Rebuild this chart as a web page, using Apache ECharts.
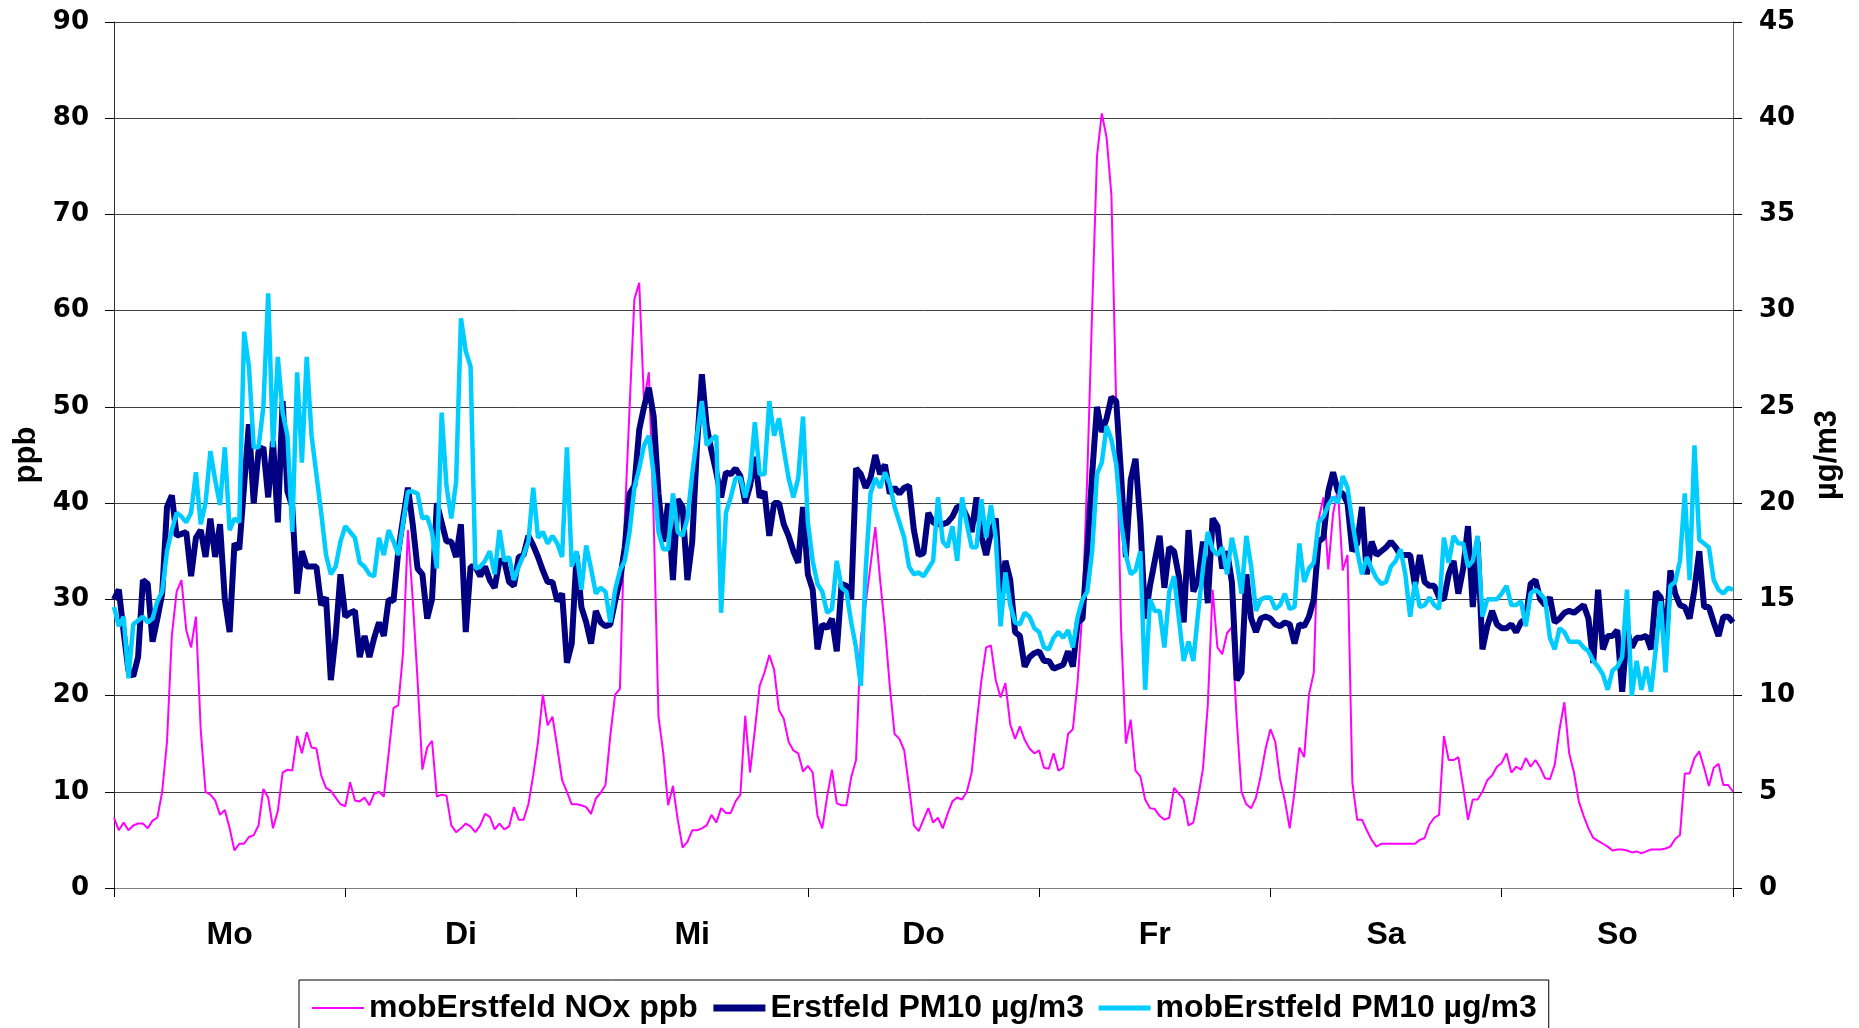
<!DOCTYPE html>
<html>
<head>
<meta charset="utf-8">
<script src="https://cdn.jsdelivr.net/npm/echarts@6/dist/echarts.min.js"></script>
<style>
html,body{margin:0;padding:0;background:#fff;}
#chart{width:1859px;height:1028px;}
</style>
</head>
<body>
<div id="chart"></div>
<script>
// Day labels (one tick interval = one day of half-hourly values)
const dayLabels = ['Mo', 'Di', 'Mi', 'Do', 'Fr', 'Sa', 'So'];
const seriesNames = ['mobErstfeld NOx ppb', 'Erstfeld PM10 µg/m3', 'mobErstfeld PM10 µg/m3'];

// mobErstfeld NOx (ppb), half-hourly
const noxPpb = [
  // Mo
  7.3, 6.0, 6.8, 6.0, 6.5, 6.7, 6.7, 6.2, 7.0, 7.3, 10, 15.2, 26.2, 30.8, 32, 26.8, 25, 28.2, 16.4, 10,
  9.7, 9.1, 7.6, 8.1, 6.2, 3.9, 4.6, 4.6, 5.3, 5.5, 6.5, 10.3, 9.4, 6.2, 8, 12, 12.3, 12.2, 15.8, 14,
  16.2, 14.6, 14.5, 11.7, 10.4, 10.1, 9.4, 8.7,
  // Di
  8.5, 11, 9.1, 9, 9.4, 8.6, 9.8, 10, 9.5, 14, 18.7, 19, 24.5, 37.2, 30, 21.6, 12.3, 14.6, 15.3, 9.5,
  9.7, 9.6, 6.5, 5.8, 6.2, 6.7, 6.4, 5.8, 6.5, 7.7, 7.4, 6.1, 6.7, 6.1, 6.4, 8.4, 7.1, 7.1, 8.7, 11.7,
  15.2, 20.1, 16.9, 17.8, 14.6, 11.2, 10, 8.7,
  // Mi
  8.7, 8.6, 8.4, 7.7, 9.3, 9.9, 10.7, 15.8, 20.1, 20.7, 38.3, 49.9, 61.2, 62.9, 50.5, 53.6, 38.3, 17.8, 14, 8.6,
  10.6, 7.1, 4.2, 4.8, 6, 6, 6.2, 6.5, 7.6, 6.8, 8.3, 7.8, 7.8, 9, 9.7, 17.9, 12, 16.4, 21, 22.4,
  24.2, 22.7, 18.5, 17.6, 15.2, 14.3, 14, 12.1,
  // Do
  12.7, 12, 7.5, 6.2, 9.5, 12.3, 8.8, 8.6, 8.6, 11.5, 13.3, 26, 29.5, 33.5, 37.5, 32, 27, 21, 16, 15.5,
  14.3, 10.5, 6.5, 5.9, 7.1, 8.3, 6.8, 7.3, 6.2, 7.7, 9, 9.4, 9.2, 10, 12, 17, 21.5, 25, 25.2, 21.6,
  19.8, 21.3, 17, 15.5, 16.8, 15.4, 14.5, 14,
  // Fr
  14.3, 12.5, 12.4, 14, 12.2, 12.5, 16, 16.5, 21.5, 29, 43, 60, 76, 80.5, 78, 72, 50, 27, 15, 17.5,
  12.2, 11.6, 9.2, 8.3, 8.2, 7.5, 7.1, 7.3, 10.4, 9.8, 9.2, 6.5, 6.8, 9.4, 12.4, 19, 31, 25, 24.3, 26.5,
  27.1, 17.5, 10, 8.7, 8.3, 9.4, 11.7, 14.5,
  // Sa
  16.5, 15.2, 11.3, 9.1, 6.2, 10, 14.6, 13.6, 20.1, 22.4, 38.3, 40.6, 33.1, 38.9, 41.5, 33, 34.6, 11, 7.1, 7.1,
  6, 5, 4.3, 4.6, 4.6, 4.6, 4.6, 4.6, 4.6, 4.6, 4.6, 5, 5.2, 6.6, 7.3, 7.6, 15.8, 13.3, 13.3, 13.6,
  10.5, 7.1, 9.2, 9.2, 10, 11.2, 11.7, 12.6,
  // So
  13, 14, 12, 12.6, 12.3, 13.5, 12.6, 13.3, 12.5, 11.4, 11.3, 12.8, 16.5, 19.3, 14, 12, 9, 7.5, 6.2, 5.2,
  4.9, 4.6, 4.3, 3.9, 4, 4, 3.9, 3.7, 3.8, 3.6, 3.8, 4, 4, 4, 4.1, 4.3, 5.1, 5.5, 11.9, 11.9,
  13.5, 14.2, 12.5, 10.6, 12.5, 12.9, 10.7, 10.7, 10
];

// Erstfeld PM10 (µg/m3), half-hourly
const pm10Erstfeld = [
  // Mo
  15, 15.5, 13.3, 11.3, 11, 12, 16, 15.8, 12.8, 14, 15.3, 19.8, 20.4, 18.3, 18.4, 18.5, 16.2, 18.2, 18.6, 17.2,
  19.2, 17.2, 18.9, 15, 13.3, 17.9, 17.6, 20.9, 24.1, 20, 22.7, 22.9, 20.3, 23.2, 19, 25.3, 20.6, 19.8, 15.3, 17.5,
  16.7, 16.7, 16.7, 14.7, 15.1, 10.8, 13.1, 16.3,
  // Di
  14.1, 14.3, 14.4, 12, 13.1, 12, 13, 13.8, 13.1, 15, 14.9, 17.5, 19.2, 20.8, 18.9, 16.6, 16.3, 14, 15, 20,
  19, 18, 18, 17.2, 18.9, 13.3, 16.7, 16.7, 16.2, 16.7, 16, 15.6, 17, 17, 15.9, 15.7, 17.2, 17.3, 18.3, 17.8,
  17.2, 16.5, 15.9, 15.9, 14.9, 15.3, 11.7, 12.7,
  // Mi
  17.3, 14.6, 13.8, 12.7, 14.4, 13.8, 13.6, 13.7, 14.9, 16, 17.7, 20.5, 20.9, 23.8, 25, 26, 24.5, 20.5, 18, 20,
  16, 20.2, 19.8, 16, 18, 23, 26.7, 24, 22.7, 21.6, 20.3, 21.6, 21.5, 21.8, 21.4, 20, 20.9, 22.4, 20.3, 20.6,
  18.3, 20, 20, 18.9, 18.3, 17.5, 16.9, 19.8,
  // Do
  16.3, 15.5, 12.4, 13.7, 13.5, 14, 12.3, 15.8, 15.7, 15, 21.8, 21.5, 20.8, 21.3, 22.5, 21.5, 22, 20.5, 20.8, 20.5,
  20.8, 20.9, 18.6, 17.3, 17.4, 19.5, 19, 18.9, 18.9, 19, 19.3, 19.8, 19.8, 19.3, 18.5, 20.3, 18.3, 17.3, 18.5, 19.2,
  15.3, 17, 16, 13.3, 13.1, 11.5, 12, 12.2,
  // Fr
  12.3, 11.8, 11.8, 11.4, 11.5, 11.6, 12.3, 11.5, 13.8, 14, 17.5, 21.5, 25, 23.7, 24.4, 25.5, 25.3, 21.5, 17.2, 21.2,
  22.3, 19, 14, 15.7, 17, 18.3, 15.6, 17.7, 17.5, 16.2, 13.8, 18.6, 15.4, 16, 18, 14.8, 19.2, 18.8, 16.6, 17.5,
  15.9, 10.8, 11.2, 16.3, 14, 13.3, 14, 14.1,
  // Sa
  14, 13.7, 13.6, 13.8, 13.7, 12.7, 13.7, 13.6, 14.1, 15, 18, 18.2, 20.6, 21.6, 20.6, 20.5, 20, 17.5, 17.9, 19.8,
  16.3, 18, 17.3, 17.5, 17.7, 18, 17.7, 17.3, 17.3, 17.3, 15.7, 17.3, 15.9, 15.7, 15.7, 15.1, 15, 16.3, 17, 15.3,
  16.6, 18.8, 14.6, 18, 12.4, 13.6, 14.4, 13.7,
  // So
  13.5, 13.5, 13.7, 13.3, 13.8, 14, 15.8, 16, 15, 14.7, 15.1, 13.8, 14, 14.3, 14.4, 14.3, 14.5, 14.7, 14, 11.7,
  15.5, 12.4, 13.1, 13.1, 13.4, 10.2, 13.4, 12.5, 13, 13, 13.1, 12.4, 15.4, 15.1, 12.5, 16.5, 15.3, 14.7, 14.6, 14,
  15.5, 17.5, 14.6, 14.6, 13.8, 13.1, 14.1, 14.1, 13.8
];

// mobErstfeld PM10 (µg/m3), half-hourly
const pm10MobErstfeld = [
  // Mo
  14.6, 13.6, 14.1, 10.9, 13.7, 13.9, 14.1, 13.8, 14, 14.9, 15.4, 17.5, 18.6, 19.5, 19.3, 19, 19.5, 21.6, 18.9, 20,
  22.7, 21.2, 19.9, 22.9, 18.6, 19.2, 19, 28.9, 27.1, 22.9, 22.9, 25, 30.9, 22.9, 27.6, 24.7, 23.5, 18.5, 26.8, 22.1,
  27.6, 23.5, 21.5, 19.5, 17.3, 16.3, 16.7, 18,
  // Di
  18.8, 18.5, 18.2, 16.9, 16.7, 16.3, 16.2, 18.2, 17.3, 18.6, 18, 17.3, 19, 20.6, 20.6, 20.5, 19.2, 19.3, 18.5, 16.6,
  24.7, 20.9, 19.2, 21.1, 29.6, 27.9, 27.1, 16.6, 16.7, 17, 17.5, 16.3, 18.6, 17, 17.2, 16, 16.7, 17.3, 18, 20.8,
  18.2, 18.5, 17.9, 18.3, 17.9, 17.2, 22.9, 16.7,
  // Mi
  17.5, 15.5, 17.8, 16.6, 15.3, 15.6, 15.4, 13.8, 15.5, 16.5, 17, 18.5, 20.8, 21.8, 23, 23.5, 21.5, 18.5, 17.6, 17.6,
  20.5, 18.5, 18.3, 19.2, 21.5, 23.5, 25.3, 23, 23.3, 23.5, 14.3, 19.5, 20.3, 21.3, 21.3, 20.3, 21.3, 24.2, 21.5, 21.5,
  25.3, 23.5, 24.4, 22.8, 21.3, 20.3, 21.3, 24.5,
  // Do
  19, 17, 15.8, 15.4, 14.3, 14.5, 17, 15.6, 15.4, 13.8, 12.5, 10.5, 16.5, 20.5, 21.3, 20.8, 21.6, 21, 19.8, 19,
  18.2, 16.7, 16.3, 16.4, 16.2, 16.6, 17, 20.3, 18, 17.7, 18.8, 17, 20.3, 18.9, 17.7, 17.7, 20.2, 18.2, 19.9, 18.2,
  13.6, 16.4, 14.7, 13.8, 13.7, 14.3, 14.1, 13.5,
  // Fr
  13.3, 12.5, 12.4, 13, 13.3, 13, 13.4, 12.5, 14.1, 15, 15.4, 17.5, 21.5, 22.1, 24, 23.3, 22, 19, 17.3, 16.3,
  16.5, 17.5, 10.3, 15, 14.4, 14.4, 12.5, 15.4, 16.2, 14, 11.8, 12.8, 11.8, 14.3, 16.6, 18.5, 17.6, 17.3, 17.7, 16.3,
  18.2, 17, 15.3, 18.3, 16.7, 14.4, 15, 15.1,
  // Sa
  15.1, 14.5, 14.7, 15.3, 14.5, 14.6, 17.9, 15.9, 16.6, 16.9, 19, 19.3, 19.9, 20.3, 20, 21.4, 20.8, 19, 17.5, 16.3,
  17.2, 16.6, 16.1, 15.8, 15.9, 16.7, 17, 17.6, 16.3, 14.1, 15.9, 14.6, 14.7, 15.1, 14.7, 14.5, 18.2, 16.9, 18.3, 17.9,
  17.9, 16.7, 17, 18.3, 14.1, 15, 15, 15,
  // So
  15.3, 15.7, 14.7, 14.7, 14.9, 13.6, 15.3, 15.5, 15.3, 15, 13, 12.4, 13.5, 13.3, 12.8, 12.8, 12.8, 12.5, 12.3, 11.8,
  11.5, 11.1, 10.3, 11.3, 11.5, 12, 15.5, 10, 11.8, 10.3, 11.5, 10.2, 12.5, 14.9, 11.2, 15.7, 15.9, 17, 20.5, 16,
  23, 18.1, 17.9, 17.7, 16, 15.5, 15.3, 15.6, 15.5
];

const seriesColors = ['#FF00FF', '#000080', '#00CCFF'];
const seriesWidths = [2, 6, 4.5];
const legendWidths = [2, 7, 5];

const stepsPerDay = 48;
const lastStep = stepsPerDay * dayLabels.length;
const toPairs = arr => arr.map((v, i) => [i, v]);

const numFont = {fontFamily: 'DejaVu Sans', fontWeight: 'bold', fontSize: 26, color: '#000'};
const txtFont = {fontFamily: 'Liberation Sans', fontWeight: 'bold', color: '#000'};

const chart = echarts.init(document.getElementById('chart'), null, {renderer: 'canvas'});
chart.setOption({
  animation: false,
  backgroundColor: '#ffffff',
  grid: {left: 114, right: 126, top: 22, bottom: 140, containLabel: false},
  legend: {
    data: seriesNames.map((n, i) => ({
      name: n,
      itemStyle: {opacity: 0, borderWidth: 0},
      lineStyle: {color: seriesColors[i], width: legendWidths[i], opacity: 1}
    })),
    left: 299, top: 980,
    itemWidth: 52, itemHeight: 14, itemGap: 12,
    padding: [12, 12, 40, 12],
    borderColor: '#000', borderWidth: 1,
    textStyle: Object.assign({fontSize: 32}, txtFont)
  },
  xAxis: [
    {
      type: 'value', min: 0, max: lastStep, interval: stepsPerDay, position: 'bottom',
      axisLine: {show: true, lineStyle: {color: '#808080', width: 1}},
      axisTick: {show: true, length: 9, lineStyle: {color: '#000', width: 1}},
      axisLabel: {show: false},
      splitLine: {show: false}
    },
    {
      type: 'category', data: dayLabels, boundaryGap: true, position: 'bottom',
      axisLine: {show: false}, axisTick: {show: false}, splitLine: {show: false},
      axisLabel: Object.assign({margin: 31, fontSize: 32}, txtFont)
    }
  ],
  yAxis: [
    {
      type: 'value', min: 0, max: 90, interval: 10, position: 'left',
      name: 'ppb', nameLocation: 'middle', nameRotate: 90, nameGap: 69,
      nameTextStyle: Object.assign({fontSize: 31}, txtFont),
      axisLine: {show: true, lineStyle: {color: '#303030', width: 1}},
      axisTick: {show: true, length: 9, lineStyle: {color: '#000'}},
      axisLabel: Object.assign({margin: 25}, numFont),
      splitLine: {show: true, lineStyle: {color: '#404040', width: 1}}
    },
    {
      type: 'value', min: 0, max: 45, interval: 5, position: 'right',
      name: 'µg/m3', nameLocation: 'middle', nameRotate: 90, nameGap: 79,
      nameTextStyle: Object.assign({fontSize: 31}, txtFont),
      axisLine: {show: true, lineStyle: {color: '#606060', width: 1}},
      axisTick: {show: true, length: 9, lineStyle: {color: '#000'}},
      axisLabel: Object.assign({margin: 26}, numFont),
      splitLine: {show: false}
    }
  ],
  series: [
    {
      name: seriesNames[0], type: 'line', xAxisIndex: 0, yAxisIndex: 0,
      data: toPairs(noxPpb), symbol: 'none', showSymbol: false,
      lineStyle: {color: seriesColors[0], width: seriesWidths[0]}, itemStyle: {color: seriesColors[0]}
    },
    {
      name: seriesNames[1], type: 'line', xAxisIndex: 0, yAxisIndex: 1,
      data: toPairs(pm10Erstfeld), symbol: 'none', showSymbol: false,
      lineStyle: {color: seriesColors[1], width: seriesWidths[1]}, itemStyle: {color: seriesColors[1]}
    },
    {
      name: seriesNames[2], type: 'line', xAxisIndex: 0, yAxisIndex: 1,
      data: toPairs(pm10MobErstfeld), symbol: 'none', showSymbol: false,
      lineStyle: {color: seriesColors[2], width: seriesWidths[2]}, itemStyle: {color: seriesColors[2]}
    }
  ]
});
</script>
</body>
</html>
